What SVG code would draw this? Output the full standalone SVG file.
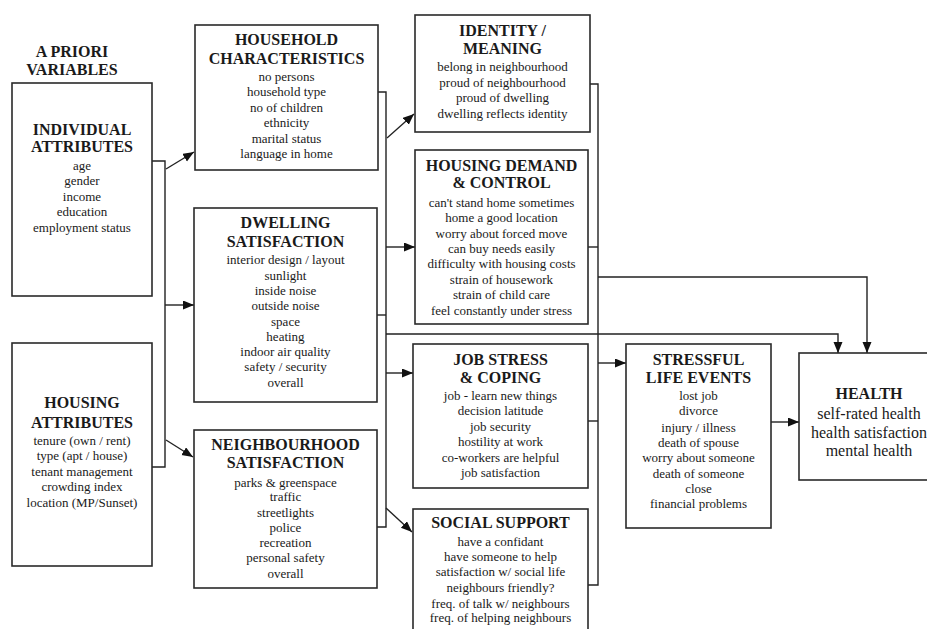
<svg xmlns="http://www.w3.org/2000/svg" width="927" height="629" viewBox="0 0 927 629">
<defs>
<marker id="ah" markerUnits="userSpaceOnUse" markerWidth="12" markerHeight="10" refX="11" refY="4.5" orient="auto">
<path d="M0,0 L11,4.5 L0,9 z" fill="#111"/>
</marker>
<style>
.box{fill:#fff;stroke:#2a2a2a;stroke-width:1.6}
.h{font-family:"Liberation Serif","Times New Roman",serif;font-weight:bold;font-size:16px;fill:#1a1a1a;text-anchor:middle}
.t{font-family:"Liberation Serif","Times New Roman",serif;font-size:13px;fill:#1a1a1a;text-anchor:middle}
.t16{font-family:"Liberation Serif","Times New Roman",serif;font-size:16px;fill:#1a1a1a;text-anchor:middle}
.c{fill:none;stroke:#222;stroke-width:1.4}
.a{fill:none;stroke:#222;stroke-width:1.4;marker-end:url(#ah)}
</style>
</defs>
<rect width="927" height="629" fill="#fff"/>

<g id="title">
<text class="h" x="72" y="57">A PRIORI</text>
<text class="h" x="72" y="75">VARIABLES</text>
</g>

<g id="connectors">
<path class="c" d="M146,161 H165 V467 H146"/>
<path class="a" d="M166,169 L194,152"/>
<path class="a" d="M165,305 H194"/>
<path class="a" d="M166,440 L193,457"/>
<path class="c" d="M378,92 H386 V527 H377"/>
<path class="c" d="M377,315 H386"/>
<path class="a" d="M387,138 L414,114"/>
<path class="a" d="M386,247 H415"/>
<path class="a" d="M386,373 H413"/>
<path class="a" d="M386,508 L412,532"/>
<path class="a" d="M386,334 H838 V353"/>
<path class="c" d="M590,84 H598 V585 H588"/>
<path class="c" d="M588,247 H598"/>
<path class="c" d="M588,421 H598"/>
<path class="a" d="M598,277 H867 V353"/>
<path class="a" d="M598,363 H626"/>
<path class="a" d="M771,422 H799"/>
</g>

<g id="individual">
<rect class="box" x="12" y="83" width="140" height="213"/>
<text class="h" x="82" y="135">INDIVIDUAL</text>
<text class="h" x="82" y="152">ATTRIBUTES</text>
<text class="t" x="82" y="169.5">age</text>
<text class="t" x="82" y="185">gender</text>
<text class="t" x="82" y="200.5">income</text>
<text class="t" x="82" y="216">education</text>
<text class="t" x="82" y="231.5">employment status</text>
</g>

<g id="housing">
<rect class="box" x="12" y="343" width="140" height="223"/>
<text class="h" x="82" y="408">HOUSING</text>
<text class="h" x="82" y="428">ATTRIBUTES</text>
<text class="t" x="82" y="444.5">tenure (own / rent)</text>
<text class="t" x="82" y="460">type (apt / house)</text>
<text class="t" x="82" y="475.5">tenant management</text>
<text class="t" x="82" y="491">crowding index</text>
<text class="t" x="82" y="506.5">location (MP/Sunset)</text>
</g>

<g id="household">
<rect class="box" x="195" y="25" width="183" height="145"/>
<text class="h" x="286.5" y="45">HOUSEHOLD</text>
<text class="h" x="286.5" y="64">CHARACTERISTICS</text>
<text class="t" x="286.5" y="80.5">no persons</text>
<text class="t" x="286.5" y="95.5">household type</text>
<text class="t" x="286.5" y="111.5">no of children</text>
<text class="t" x="286.5" y="126.5">ethnicity</text>
<text class="t" x="286.5" y="142.5">marital status</text>
<text class="t" x="286.5" y="157.5">language in home</text>
</g>

<g id="dwelling">
<rect class="box" x="194" y="208" width="183" height="194"/>
<text class="h" x="285.5" y="228">DWELLING</text>
<text class="h" x="285.5" y="247">SATISFACTION</text>
<text class="t" x="285.5" y="263.5">interior design / layout</text>
<text class="t" x="285.5" y="279.5">sunlight</text>
<text class="t" x="285.5" y="294.5">inside noise</text>
<text class="t" x="285.5" y="309.5">outside noise</text>
<text class="t" x="285.5" y="325.5">space</text>
<text class="t" x="285.5" y="340.5">heating</text>
<text class="t" x="285.5" y="355.5">indoor air quality</text>
<text class="t" x="285.5" y="370.5">safety / security</text>
<text class="t" x="285.5" y="386.5">overall</text>
</g>

<g id="neighbourhood">
<rect class="box" x="194" y="430" width="183" height="158"/>
<text class="h" x="285.5" y="450">NEIGHBOURHOOD</text>
<text class="h" x="285.5" y="468">SATISFACTION</text>
<text class="t" x="285.5" y="486.5">parks &amp; greenspace</text>
<text class="t" x="285.5" y="500.5">traffic</text>
<text class="t" x="285.5" y="516.5">streetlights</text>
<text class="t" x="285.5" y="531.5">police</text>
<text class="t" x="285.5" y="546.5">recreation</text>
<text class="t" x="285.5" y="561.5">personal safety</text>
<text class="t" x="285.5" y="577.5">overall</text>
</g>

<g id="identity">
<rect class="box" x="415" y="15" width="175" height="117"/>
<text class="h" x="502.5" y="36">IDENTITY /</text>
<text class="h" x="502.5" y="54">MEANING</text>
<text class="t" x="502.5" y="70.5">belong in neighbourhood</text>
<text class="t" x="502.5" y="86.5">proud of neighbourhood</text>
<text class="t" x="502.5" y="101.5">proud of dwelling</text>
<text class="t" x="502.5" y="117.5">dwelling reflects identity</text>
</g>

<g id="demand">
<rect class="box" x="415" y="150" width="173" height="174"/>
<text class="h" x="501.5" y="171">HOUSING DEMAND</text>
<text class="h" x="501.5" y="188">&amp; CONTROL</text>
<text class="t" x="501.5" y="206.5">can't stand home sometimes</text>
<text class="t" x="501.5" y="221.5">home a good location</text>
<text class="t" x="501.5" y="237.5">worry about forced move</text>
<text class="t" x="501.5" y="252.5">can buy needs easily</text>
<text class="t" x="501.5" y="267.5">difficulty with housing costs</text>
<text class="t" x="501.5" y="283.5">strain of housework</text>
<text class="t" x="501.5" y="298.5">strain of child care</text>
<text class="t" x="501.5" y="314.5">feel constantly under stress</text>
</g>

<g id="job">
<rect class="box" x="413" y="344" width="175" height="144"/>
<text class="h" x="500.5" y="365">JOB STRESS</text>
<text class="h" x="500.5" y="383">&amp; COPING</text>
<text class="t" x="500.5" y="399.5">job - learn new things</text>
<text class="t" x="500.5" y="414.5">decision latitude</text>
<text class="t" x="500.5" y="430.5">job security</text>
<text class="t" x="500.5" y="445.5">hostility at work</text>
<text class="t" x="500.5" y="461.5">co-workers are helpful</text>
<text class="t" x="500.5" y="476.5">job satisfaction</text>
</g>

<g id="social">
<rect class="box" x="413" y="509" width="175" height="130"/>
<text class="h" x="500.5" y="528">SOCIAL SUPPORT</text>
<text class="t" x="500.5" y="545.5">have a confidant</text>
<text class="t" x="500.5" y="560.5">have someone to help</text>
<text class="t" x="500.5" y="575.5">satisfaction w/ social life</text>
<text class="t" x="500.5" y="591.5">neighbours friendly?</text>
<text class="t" x="500.5" y="607.5">freq. of talk w/ neighbours</text>
<text class="t" x="500.5" y="621.5">freq. of helping neighbours</text>
</g>

<g id="stressful">
<rect class="box" x="626" y="344" width="145" height="184"/>
<text class="h" x="698.5" y="365">STRESSFUL</text>
<text class="h" x="698.5" y="383">LIFE EVENTS</text>
<text class="t" x="698.5" y="399.5">lost job</text>
<text class="t" x="698.5" y="414.5">divorce</text>
<text class="t" x="698.5" y="431.5">injury / illness</text>
<text class="t" x="698.5" y="446.5">death of spouse</text>
<text class="t" x="698.5" y="461.5">worry about someone</text>
<text class="t" x="698.5" y="477.5">death of someone</text>
<text class="t" x="698.5" y="492.5">close</text>
<text class="t" x="698.5" y="507.5">financial problems</text>
</g>

<g id="health">
<rect class="box" x="799" y="353" width="140" height="127"/>
<text class="h" x="869" y="398.5">HEALTH</text>
<text class="t16" x="869" y="418.5">self-rated health</text>
<text class="t16" x="869" y="437.5">health satisfaction</text>
<text class="t16" x="869" y="455.5">mental health</text>
</g>
</svg>
